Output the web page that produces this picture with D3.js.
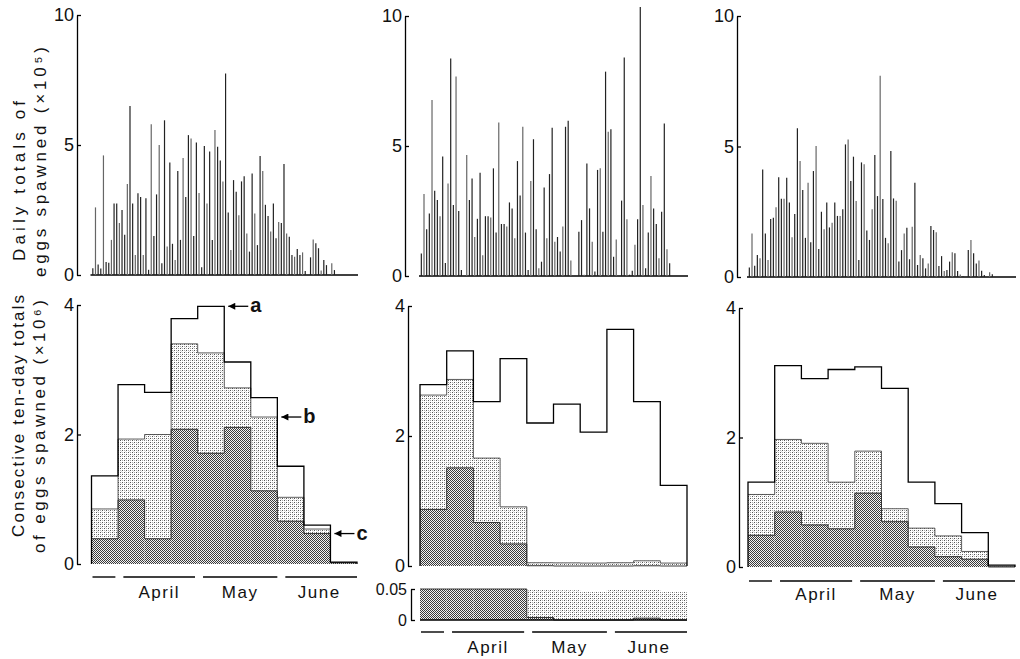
<!DOCTYPE html>
<html>
<head>
<meta charset="utf-8">
<script src="https://cdn.jsdelivr.net/npm/d3@7"></script>
<style>
  body { margin: 0; background: #fff; }
  svg { display: block; }
  text { font-family: "Liberation Sans", Arial, sans-serif; fill: #111; }
</style>
</head>
<body>
<svg id="chart" width="1020" height="659"></svg>
<script>
// daily totals of eggs spawned (x10^5), one value per day
const daily1 = [0.26, 2.6, 0.4, 0.25, 4.6, 0.5, 0.47, 1.35, 2.75, 2.75,
  2.0, 2.5, 1.55, 3.5, 6.5, 2.75, 0.77, 3.14, 3.0, 0.77,
  2.95, 0.2, 5.8, 1.5, 3.1, 5.0, 0.45, 5.95, 1.1, 4.33,
  1.2, 0.58, 4.0, 1.35, 4.5, 3.0, 5.38, 5.25, 1.5, 5.1,
  3.15, 0.3, 4.96, 2.75, 4.75, 1.35, 5.58, 4.93, 4.4, 3.6,
  7.75, 2.4, 0.96, 3.65, 3.2, 2.3, 3.6, 3.8, 1.6, 0.9,
  3.9, 2.37, 1.15, 4.58, 4.0, 2.7, 2.27, 1.67, 2.75, 1.41,
  2.04, 2.0, 4.27, 1.6, 1.47, 0.77, 0.7, 1.0, 0.77, 0.87,
  0.15, 0, 0.68, 1.37, 1.22, 1.03, 0.17, 0.58, 0.38, 0,
  0.45, 0.19, 0, 0, 0, 0, 0, 0, 0, 0];
const daily2 = [0.87, 3.15, 1.8, 2.4, 6.77, 3.28, 2.92, 2.3, 4.6, 0.5,
  3.56, 8.37, 2.73, 7.67, 2.5, 0.23, 0, 4.65, 2.92, 3.75,
  1.5, 2.2, 3.97, 0.8, 2.3, 2.3, 2.25, 4.14, 1.67, 5.9,
  2.0, 2.0, 1.9, 2.83, 2.6, 1.45, 4.42, 3.1, 5.74, 1.67,
  0.23, 3.65, 5.26, 1.8, 0.3, 0.55, 3.4, 1.45, 3.92, 5.7,
  1.32, 1.5, 0.94, 1.9, 5.74, 5.97, 0.6, 0, 0, 1.7,
  2.15, 0.05, 4.33, 2.6, 1.32, 0.17, 4.08, 4.14, 1.7, 7.86,
  5.55, 5.64, 0.74, 1.4, 0, 2.9, 8.4, 2.18, 0.05, 0.2,
  1.2, 2.18, 10.35, 2.73, 0.3, 1.67, 3.85, 2.6, 2.0, 0.68,
  2.47, 5.87, 1.03, 0.49, 0, 0, 0, 0, 0, 0];
const daily3 = [0.36, 1.67, 0.43, 0.84, 0.72, 4.12, 1.67, 0.65, 2.22, 2.27,
  2.67, 3.82, 3.0, 3.0, 3.8, 2.85, 1.52, 2.41, 5.7, 4.44,
  3.33, 1.5, 3.61, 1.33, 4.06, 5.02, 1.07, 2.5, 1.83, 2.85,
  1.9, 2.08, 2.85, 2.34, 2.34, 2.6, 5.08, 5.27, 3.68, 4.61,
  2.91, 0.65, 4.39, 4.32, 1.78, 1.42, 2.6, 4.67, 3.1, 7.71,
  2.99, 1.5, 1.29, 4.83, 3.01, 2.92, 0.59, 1.03, 1.67, 1.89,
  0.68, 1.93, 3.61, 0.46, 0.84, 0.72, 0.33, 0.52, 1.95, 1.8,
  1.71, 0.42, 0.8, 0.23, 0.27, 0.59, 0.95, 0.91, 0.23, 0.1,
  0.03, 0, 1.03, 1.42, 0.91, 0.52, 0.63, 0.24, 0.08, 0,
  0.18, 0.11, 0, 0, 0, 0, 0, 0, 0, 0];

// ten-day totals (x10^6): a = all eggs, b = middle layer, c = bottom layer
const total1 = [1.36, 2.77, 2.65, 3.79, 3.98, 3.12, 2.57, 1.51, 0.60, 0.03];
const mid1   = [0.85, 1.93, 2.00, 3.40, 3.26, 2.72, 2.27, 1.03, 0.54, 0.02];
const low1   = [0.39, 0.99, 0.39, 2.08, 1.71, 2.11, 1.13, 0.66, 0.47, 0.02];
const total2 = [2.79, 3.31, 2.53, 3.19, 2.20, 2.49, 2.06, 3.64, 2.53, 1.24];
const mid2   = [2.63, 2.87, 1.66, 0.91, 0.05, 0.048, 0.045, 0.05, 0.08, 0.045];
const low2   = [0.87, 1.51, 0.67, 0.34, 0.004, 0, 0, 0, 0.003, 0];
const total3 = [1.31, 3.11, 2.91, 3.05, 3.09, 2.76, 1.31, 0.98, 0.53, 0.03];
const mid3   = [1.12, 1.97, 1.91, 1.31, 1.79, 0.90, 0.60, 0.48, 0.24, 0.01];
const low3   = [0.49, 0.85, 0.65, 0.59, 1.14, 0.70, 0.31, 0.16, 0.12, 0];

const months = ["", "April", "May", "June"];
const monthBreaks = [0, 10.5, 40.5, 71.5, 100];   // in days
const topTicks = [0, 5, 10];
const bottomTicks = [0, 2, 4];
const insetTicks = [0, 0.05];

const panels = [
  { daily: daily1, a: total1, b: mid1, c: low1, xr: [91.5, 357], topX: 77, topY: [275, 15],
    botX: 77, botY: [564, 305], monthY: 577, labelY: 598 },
  { daily: daily2, a: total2, b: mid2, c: low2, xr: [420, 687], topX: 405, topY: [276, 16],
    botX: 408, botY: [566, 306], monthY: 632, labelY: 653, inset: [620, 589], insetX: 411 },
  { daily: daily3, a: total3, b: mid3, c: low3, xr: [748, 1015], topX: 737, topY: [277, 16],
    botX: 739, botY: [567, 308], monthY: 581, labelY: 600 }
];

const svg = d3.select("#chart");
svg.append("rect").attr("width", 1020).attr("height", 659).attr("fill", "#fff");

// screen-tone patterns
const defs = svg.append("defs");
const light = defs.append("pattern").attr("id", "light")
  .attr("patternUnits", "userSpaceOnUse").attr("width", 4).attr("height", 4);
light.append("rect").attr("width", 4).attr("height", 4).attr("fill", "#fff");
[[0, 0, "#555"], [2, 2, "#555"], [2, 0, "#aaa"], [0, 2, "#aaa"], [1, 3, "#ddd"]].forEach(([x, y, f]) =>
  light.append("rect").attr("x", x).attr("y", y).attr("width", 1).attr("height", 1).attr("fill", f));
const dark = defs.append("pattern").attr("id", "dark")
  .attr("patternUnits", "userSpaceOnUse").attr("width", 2).attr("height", 2);
dark.append("rect").attr("width", 2).attr("height", 2).attr("fill", "#f2f2f2");
[[0, 0], [1, 1]].forEach(([x, y]) =>
  dark.append("rect").attr("x", x).attr("y", y).attr("width", 1).attr("height", 1).attr("fill", "#3a3a3a"));

defs.append("marker").attr("id", "arrow").attr("viewBox", "0 0 10 10")
  .attr("refX", 10).attr("refY", 5).attr("markerWidth", 8).attr("markerHeight", 7)
  .attr("markerUnits", "userSpaceOnUse").attr("orient", "auto")
  .append("path").attr("d", "M0,0 L10,5 L0,10 z").attr("fill", "#000");

function styleAxis(g, size) {
  g.select(".domain").attr("stroke", "#000").attr("stroke-width", 1.3);
  g.selectAll(".tick line").attr("stroke", "#000").attr("stroke-width", 1.3);
  g.selectAll(".tick text").attr("font-size", size).attr("fill", "#111")
    .attr("font-family", "'Liberation Sans', Arial, sans-serif");
}

// step outline over the ten-day bars, closed down to the baseline
function stepPath(x, y, vals, closed) {
  const pts = vals.map((v, k) => [x(k * 10), y(v)]);
  pts.push([x(100), y(vals[vals.length - 1])]);
  if (closed) {
    pts.unshift([x(0), y(0)]);
    pts.push([x(100), y(0)]);
  }
  return d3.line().curve(d3.curveStepAfter)(pts);
}

panels.forEach((p, pi) => {
  const x = d3.scaleLinear().domain([0, 100]).range(p.xr);
  const yTop = d3.scaleLinear().domain([0, 10]).range(p.topY);
  const yBot = d3.scaleLinear().domain([0, 4]).range(p.botY);

  // ---- daily totals
  svg.append("g").attr("transform", `translate(${p.topX},0)`)
    .call(d3.axisLeft(yTop).tickValues(topTicks).tickSize(-4).tickSizeOuter(0).tickPadding(3)
      .tickFormat(d3.format("d")))
    .call(g => styleAxis(g, 18));

  svg.append("line")
    .attr("x1", x(0) - 1).attr("x2", x(100) + 1)
    .attr("y1", yTop(0)).attr("y2", yTop(0))
    .attr("stroke", "#000").attr("stroke-width", 1.3);

  svg.append("g")
    .selectAll("line")
    .data(p.daily.map((v, i) => ({ v, i })).filter(d => d.v > 0))
    .join("line")
      .attr("x1", d => x(d.i + 0.5)).attr("x2", d => x(d.i + 0.5))
      .attr("y1", yTop(0)).attr("y2", d => yTop(d.v))
      .attr("stroke", (d, i) => i % 3 === 1 ? "#666" : "#222")
      .attr("stroke-width", 1.2);

  // ---- ten-day totals
  const bars = p.a.map((a, k) => ({ k, a, b: p.b[k], c: p.c[k] }));
  const gb = svg.append("g");
  gb.selectAll(".mid").data(bars).join("rect").attr("class", "mid")
    .attr("x", d => x(d.k * 10)).attr("width", d => x(d.k * 10 + 10) - x(d.k * 10))
    .attr("y", d => yBot(d.b)).attr("height", d => yBot(d.c) - yBot(d.b))
    .attr("fill", "url(#light)");
  gb.selectAll(".low").data(bars).join("rect").attr("class", "low")
    .attr("x", d => x(d.k * 10)).attr("width", d => x(d.k * 10 + 10) - x(d.k * 10))
    .attr("y", d => yBot(d.c)).attr("height", d => yBot(0) - yBot(d.c))
    .attr("fill", "url(#dark)");
  gb.append("path").attr("d", stepPath(x, yBot, p.c, false))
    .attr("fill", "none").attr("stroke", "#222").attr("stroke-width", 0.9);
  gb.append("path").attr("d", stepPath(x, yBot, p.b, false))
    .attr("fill", "none").attr("stroke", "#333").attr("stroke-width", 0.8);
  gb.append("path").attr("d", stepPath(x, yBot, p.a, true))
    .attr("fill", "none").attr("stroke", "#000").attr("stroke-width", 1.3);

  svg.append("g").attr("transform", `translate(${p.botX},0)`)
    .call(d3.axisLeft(yBot).tickValues(bottomTicks).tickSize(-4).tickSizeOuter(0).tickPadding(3)
      .tickFormat(d3.format("d")))
    .call(g => styleAxis(g, 18));

  // ---- enlarged strip (middle panel)
  if (p.inset) {
    const yIn = d3.scaleLinear().domain([0, 0.05]).range(p.inset);
    const clip = v => Math.min(v, 0.05);
    const gi = svg.append("g");
    gi.selectAll(".imid").data(bars).join("rect").attr("class", "imid")
      .attr("x", d => x(d.k * 10)).attr("width", d => x(d.k * 10 + 10) - x(d.k * 10))
      .attr("y", d => yIn(clip(d.b))).attr("height", d => yIn(clip(d.c)) - yIn(clip(d.b)))
      .attr("fill", "url(#light)");
    gi.selectAll(".ilow").data(bars).join("rect").attr("class", "ilow")
      .attr("x", d => x(d.k * 10)).attr("width", d => x(d.k * 10 + 10) - x(d.k * 10))
      .attr("y", d => yIn(clip(d.c))).attr("height", d => yIn(0) - yIn(clip(d.c)))
      .attr("fill", "url(#dark)");
    gi.append("path").attr("d", stepPath(x, yIn, p.c.map(clip), false))
      .attr("fill", "none").attr("stroke", "#222").attr("stroke-width", 0.9);
    gi.append("line").attr("x1", x(0)).attr("x2", x(100))
      .attr("y1", yIn(0)).attr("y2", yIn(0)).attr("stroke", "#000").attr("stroke-width", 1.3);
    svg.append("g").attr("transform", `translate(${p.insetX},0)`)
      .call(d3.axisLeft(yIn).tickValues(insetTicks).tickSize(-4).tickSizeOuter(0).tickPadding(4)
        .tickFormat(d => d === 0 ? "0" : "0.05"))
      .call(g => styleAxis(g, 16));
  }

  // ---- month bars and names
  const gm = svg.append("g");
  months.forEach((m, j) => {
    const x1 = x(monthBreaks[j]) + (j > 0 ? 4 : 1);
    const x2 = x(monthBreaks[j + 1]) - (j < months.length - 1 ? 4 : 0);
    gm.append("line").attr("x1", x1).attr("x2", x2)
      .attr("y1", p.monthY).attr("y2", p.monthY)
      .attr("stroke", "#000").attr("stroke-width", 1.4);
    if (m) {
      gm.append("text")
        .attr("x", x((monthBreaks[j] + monthBreaks[j + 1]) / 2))
        .attr("y", p.labelY)
        .attr("text-anchor", "middle")
        .attr("font-size", 17)
        .attr("letter-spacing", 1.5)
        .text(m);
    }
  });

  // ---- a / b / c pointers (first panel only)
  if (pi === 0) {
    const notes = [
      { name: "a", k: 4, v: p.a[4] },
      { name: "b", k: 6, v: p.b[6] },
      { name: "c", k: 8, v: p.c[8] }
    ];
    notes.forEach(n => {
      const tip = x(n.k * 10 + 10) + 4;
      const yy = yBot(n.v);
      svg.append("line").attr("x1", tip + 20).attr("x2", tip)
        .attr("y1", yy).attr("y2", yy)
        .attr("stroke", "#000").attr("stroke-width", 1.3)
        .attr("marker-end", "url(#arrow)");
      svg.append("text").attr("x", tip + 22).attr("y", yy + 6)
        .attr("font-size", 20).attr("font-weight", "bold").text(n.name);
    });
  }
});

// ---- axis titles
function sideTitle(x, y, len, str) {
  svg.append("text")
    .attr("transform", `translate(${x},${y}) rotate(-90)`)
    .attr("font-size", 17)
    .attr("textLength", len)
    .attr("lengthAdjust", "spacing")
    .text(str);
}
sideTitle(25, 261, 160, "Daily totals of");
sideTitle(46, 277, 230, "eggs spawned (×10⁵)");
sideTitle(24, 537, 242, "Consective ten-day totals");
sideTitle(45, 553, 253, "of eggs spawned (×10⁶)");
</script>
</body>
</html>
